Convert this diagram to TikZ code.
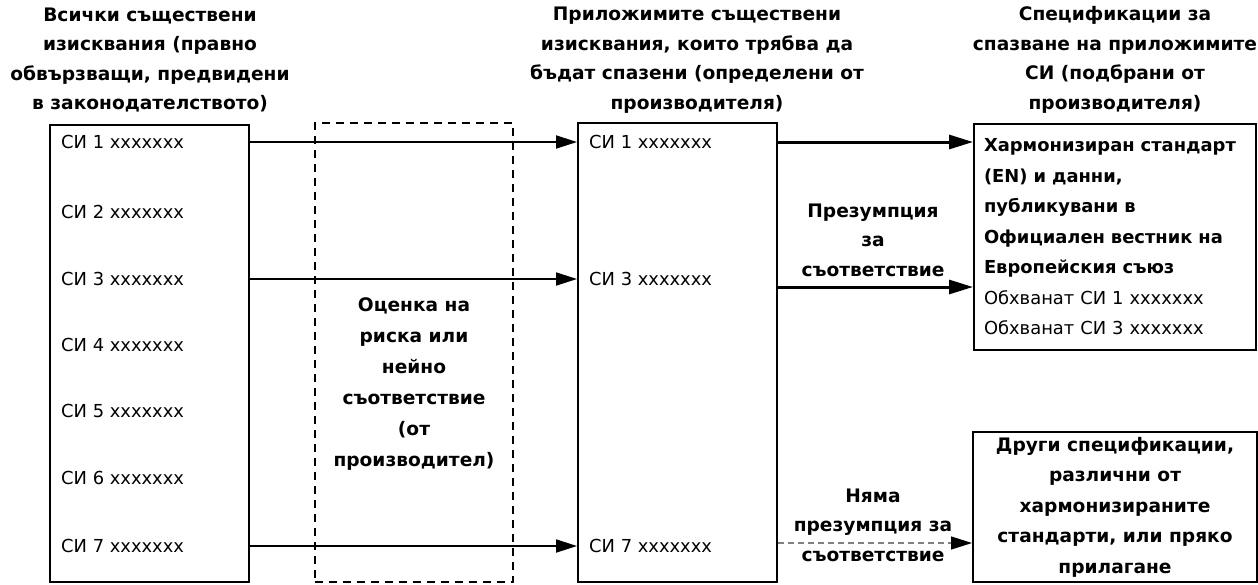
\documentclass[tikz,border=0pt]{standalone}
\usepackage{fontspec}
\setmainfont{DejaVu Sans}
\usetikzlibrary{arrows.meta}
\tikzset{
  box/.style={draw, line width=2pt, inner sep=0pt},
  head/.style={font=\bfseries\fontsize{18.6}{29.5}\selectfont, align=center, inner sep=0pt},
  item/.style={font=\fontsize{17.9}{20}\selectfont, anchor=west, inner sep=0pt},
  link/.style={line width=1.8pt, -{Triangle[length=21pt,width=13pt]}},
  thick link/.style={line width=3pt, -{Triangle[length=24pt,width=14pt]}},
}
\begin{document}
\begin{tikzpicture}[x=1pt, y=-1pt]
  \useasboundingbox (0,0) rectangle (1258,584);
  \node[head] (hall) at (150,60) {Всички съществени\\изисквания (правно\\обвързващи, предвидени\\в законодателството)};
  \node[head] (happ) at (697,60) {Приложимите съществени\\изисквания, които трябва да\\бъдат спазени (определени от\\производителя)};
  \node[head] (hspec) at (1115,60) {Спецификации за\\спазване на приложимите\\СИ (подбрани от\\производителя)};
  \node[box, minimum width=199pt, minimum height=457pt] (all) at (149.5,353.5) {};
  \node[box, dash pattern=on 8pt off 6pt, minimum width=198pt, minimum height=459pt] (risk) at (413.5,352.5) {};
  \node[head, font=\bfseries\fontsize{18.6}{31}\selectfont] (rtext) at (414,384) {Оценка на\\риска или\\нейно\\съответствие\\(от\\производител)};
  \node[box, minimum width=199pt, minimum height=459pt] (app) at (677.5,352.5) {};
  \node[box, minimum width=282pt, minimum height=226pt, align=left, text width=262pt, font=\fontsize{17.9}{30.5}\selectfont] (spec) at (1115,237) {\textbf{Хармонизиран стандарт}\\\textbf{(EN) и данни,}\\\textbf{публикувани в}\\\textbf{Официален вестник на}\\\textbf{Европейския съюз}\\Обхванат СИ 1 xxxxxxx\\Обхванат СИ 3 xxxxxxx};
  \node[box, minimum width=284pt, minimum height=150pt, align=center, font=\bfseries\fontsize{18.6}{30.5}\selectfont] (other) at (1115,507) {Други спецификации,\\различни от\\хармонизираните\\стандарти, или пряко\\прилагане};
  \foreach \n/\y in {1/142,2/212,3/279,4/345,5/411,6/478,7/546}
    \node[item] (a\n) at (61,\y) {СИ \n{} xxxxxxx};
  \foreach \n/\y in {1/142,3/279,7/546} {
    \node[item] (b\n) at (589,\y) {СИ \n{} xxxxxxx};
    \draw[link] (all.east |- a\n) -- (app.west |- b\n);
  }
  \node[head] (pres) at (873,240) {Презумпция\\за\\съответствие};
  \node[head] (nopres) at (873,525) {Няма\\презумпция за\\съответствие};
  \draw[thick link] (app.east |- b1) -- (spec.west |- b1);
  \draw[thick link] (app.east |- 0,287) -- (spec.west |- 0,287);
  \draw[gray, dash pattern=on 6pt off 4pt, line width=1.3pt, -{Triangle[length=21pt,width=13pt,black]}] (app.east |- 0,543) -- (other.west |- 0,543);
\end{tikzpicture}
\end{document}
